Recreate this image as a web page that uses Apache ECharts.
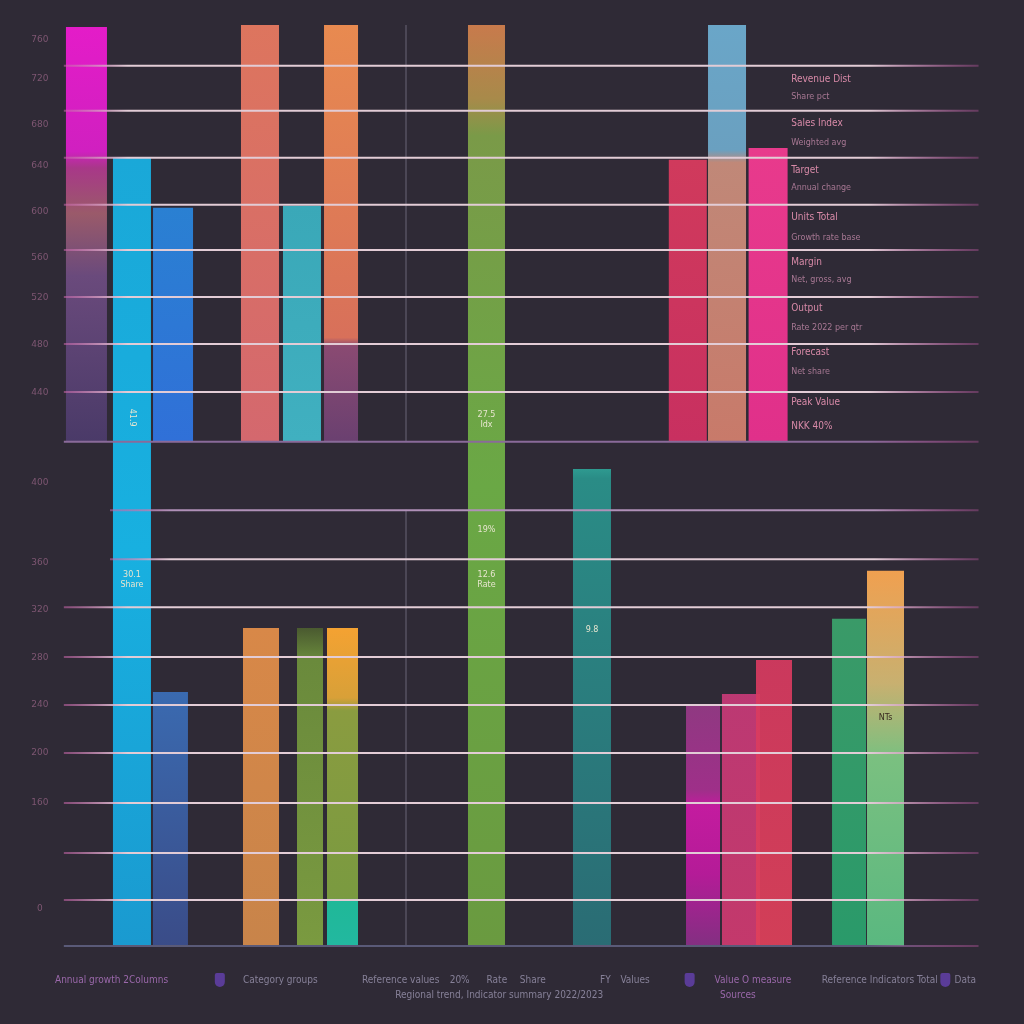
<!DOCTYPE html>
<html><head><meta charset="utf-8">
<script src="https://cdn.jsdelivr.net/npm/echarts@6/dist/echarts.min.js"></script>
<style>html,body{margin:0;background:#2f2a36}#c{width:1024px;height:1024px}</style>
</head><body><div id="c"></div><script>
// ---- data ----
const barX    = [2.65, 7.58, 12.03, 11.75, 21.45, 21.56, 26.0, 26.87, 30.23, 30.39, 45.99, 57.42, 67.8, 72.05, 76.5, 69.45, 73.56, 77.14, 85.27, 89.22];
const barLow  = [10.4, 0, 10.4, 0, 10.4, 0, 10.4, 0, 10.4, 0, 0, 0, 10.4, 10.4, 10.4, 0, 0, 0, 0, 0];
const barHigh = [18.96, 16.26, 15.23, 5.24, 19.0, 6.56, 15.27, 6.56, 19.0, 6.56, 19.0, 9.84, 16.22, 19.0, 16.46, 4.95, 5.2, 5.9, 6.75, 7.74];

const gridLineVals = [18.16, 17.23, 16.26, 15.29, 14.36, 13.39, 12.42, 11.43, 10.4, 8.99, 7.98, 6.99, 5.96, 4.97, 3.98, 2.95, 1.92, 0.95, 0];
const dividerX = 37.27;

const yLabelVals = [18.7, 17.9, 16.94, 16.1, 15.14, 14.2, 13.37, 12.4, 11.41, 9.55, 7.9, 6.93, 5.94, 4.97, 3.98, 2.95, 0.78];
const yLabelText = ['760','720','680','640','600','560','520','480','440','400','360','320','280','240','200','160','0'];

const noteVals  = [17.87, 17.52, 16.98, 16.57, 16.01, 15.64, 15.04, 14.61, 14.11, 13.74, 13.16, 12.75, 12.24, 11.84, 11.22, 10.71];
const noteText  = ['Revenue Dist','Share pct','Sales Index','Weighted avg','Target','Annual change','Units Total','Growth rate base','Margin','Net, gross, avg','Output','Rate 2022 per qtr','Forecast','Net share','Peak Value','NKK 40%'];

const catLabelX    = [-0.76, 19.6, 32.5, 42.0, 46.0, 49.6, 58.3, 60.5, 70.7, 82.3, 96.7, 36.1, 71.3];
const catLabelRow  = [0, 0, 0, 0, 0, 0, 0, 0, 0, 0, 0, 1, 1];
const catLabelText = ['Annual growth 2Columns','Category groups','Reference values','20%','Rate','Share','FY','Values','Value O measure','Reference Indicators Total','Data','Regional trend, Indicator summary 2022/2023','Sources'];
const iconX = [17.1, 68.0, 95.7];

const inBarX    = [7.58, 7.58, 45.99, 45.99, 45.99, 57.42, 89.22];
const inBarY    = [10.9, 7.55, 10.85, 8.58, 7.55, 6.52, 4.7];
const inBarText = ['41.9', '30.1\nShare', '27.5\nIdx', '19%', '12.6\nRate', '9.8', 'NTs'];

// ---- styles ----
const barWidths = [41,38,40,35,38,36,38,26,34,31,37,38,38,38,39,34,38,36,34,37];
const G = (stops) => new echarts.graphic.LinearGradient(0,0,0,1, stops.map((c)=>({offset:c[0], color:c[1]})));
const barFills = [
  G([[0,'#e41cc8'],[0.3,'#d020c0'],[0.34,'#a83888'],[0.45,'#9a5a6a'],[0.6,'#6a4a7c'],[1,'#4a3a68']]),
  G([[0,'#1aa8d8'],[0.5,'#18b0e0'],[1,'#1a9ad0']]),
  G([[0,'#2a80d2'],[1,'#3070d8']]),
  G([[0,'#3a6ab0'],[1,'#3a4c88']]),
  G([[0,'#dd755e'],[1,'#d4686e']]),
  G([[0,'#d88848'],[1,'#c8844a']]),
  G([[0,'#3aa8b8'],[1,'#40b0c0']]),
  G([[0,'#4a5a30'],[0.1,'#6a8a3c'],[1,'#7a9a40']]),
  G([[0,'#e88a50'],[0.75,'#d8705a'],[0.77,'#8a4a72'],[1,'#6a4070']]),
  G([[0,'#f4a232'],[0.22,'#d8a038'],[0.26,'#8a9c40'],[0.85,'#7a9a40'],[0.86,'#20b898'],[1,'#22b8a0']]),
  G([[0,'#c87a4c'],[0.08,'#a88a4a'],[0.12,'#7a9a48'],[0.5,'#6aa845'],[1,'#6a9a40']]),
  G([[0,'#2e9a90'],[0.02,'#2a8c86'],[1,'#2a6c74']]),
  G([[0,'#d03a5c'],[1,'#c83060']]),
  G([[0,'#6aa6c8'],[0.3,'#6aa0c0'],[0.33,'#c08878'],[1,'#c87a6a']]),
  G([[0,'#e83a8c'],[1,'#e0308a']]),
  G([[0,'#983a88'],[0.35,'#a83090'],[0.42,'#d01aa8'],[0.7,'#c01aa0'],[1,'#8a3088']]),
  G([[0,'#c83a78'],[1,'#d03a70']]),
  G([[0,'#d83a60'],[1,'#e0405a']]),
  G([[0,'#3a9a68'],[1,'#2a9a6a']]),
  G([[0,'#f0a050'],[0.3,'#c8b070'],[0.5,'#7ac080'],[1,'#5ab880']])
];

const chart = echarts.init(document.getElementById('c'), null, {renderer:'canvas'});

function textSeries(data, fmt, z){
  return {
    type:'custom', clip:false, z:z||5, silent:true,
    data: data,
    renderItem(params, api){
      const p = api.coord([api.value(0), api.value(1)]);
      const f = fmt(params.dataIndex);
      return {type:'text', x:p[0], y:p[1], rotation:f.rot||0,
        style:{text:f.text, fill:f.color, font:f.font, align:f.align||'left', verticalAlign:'middle', lineHeight:f.lh||10}};
    }
  };
}

const option = {
  backgroundColor:'#2f2a36',
  animation:false,
  grid:{left:62, right:39, top:25, bottom:78},
  xAxis:{type:'value', min:0, max:100, show:false},
  yAxis:{type:'value', min:0, max:19, show:false},
  series:[
    { // divider
      type:'custom', z:1, silent:true,
      data:[[dividerX, 10.4, 19],[dividerX, 0, 9]],
      renderItem(params, api){
        const a = api.coord([api.value(0), api.value(1)]), b = api.coord([api.value(0), api.value(2)]);
        return {type:'line', shape:{x1:a[0], y1:a[1], x2:b[0], y2:b[1]}, style:{stroke:'#6a6476', lineWidth:1}};
      }
    },
    { // bars
      type:'custom', z:2, silent:true,
      data: barX.map((x,i)=>[x, barLow[i], barHigh[i]]),
      renderItem(params, api){
        const i = params.dataIndex;
        const p0 = api.coord([api.value(0), api.value(1)]);
        const p1 = api.coord([api.value(0), api.value(2)]);
        const w = barWidths[i];
        return {type:'rect', shape:{x:p0[0]-w/2, y:p1[1], width:w, height:p0[1]-p1[1]},
          style:{fill:barFills[i], opacity:(i>=15&&i<=17)?0.92:1}};
      }
    },
    { // horizontal lines
      type:'custom', z:3, silent:true,
      data: gridLineVals.map((v,i)=>[v, i]),
      renderItem(params, api){
        const v = api.value(0);
        const start = (v===8.99||v===7.98) ? 5.2 : 0.2;
        const a = api.coord([start, v]), b = api.coord([99.3, v]);
        const base = (v===10.4||v===0);
        const mid = base ? (v===0 ? '#5a5a78' : '#8a6a9a') : (v===8.99 ? '#b090b8' : '#e2ccd6');
        const grad = new echarts.graphic.LinearGradient(0,0,1,0,[
          {offset:0, color: base ? mid : 'rgba(200,100,170,0.55)'},
          {offset:0.07, color:mid},
          {offset:0.88, color:mid},
          {offset:1, color:'rgba(200,90,170,0.35)'}]);
        return {type:'rect', shape:{x:a[0], y:a[1]-1, width:b[0]-a[0], height:2}, style:{fill:grad}};
      }
    },
    textSeries(yLabelVals.map(v=>[-2.4, v]), i=>({text:yLabelText[i], color:'#7e5672', font:'9px "DejaVu Sans"', align:'center'}), 4),
    textSeries(noteVals.map(v=>[79, v]), i=>{
      const title = (i%2===0)||i===15;
      return {text:noteText[i], color: title ? '#d88aa8' : '#a87894', font: title ? '10px "DejaVu Sans Condensed"' : '8px "DejaVu Sans"'};
    }, 4),
    textSeries(catLabelX.map((x,i)=>[x, catLabelRow[i] ? -1.01 : -0.7]), i=>{
      const purple = (i===0||i===8||i===12);
      return {text:catLabelText[i], color: purple ? '#9a68aa' : '#868098', font:'10px "DejaVu Sans Condensed"'};
    }, 4),
    { // icons
      type:'custom', clip:false, z:4, silent:true,
      data: iconX.map(x=>[x, -0.7]),
      renderItem(params, api){
        const p = api.coord([api.value(0), api.value(1)]);
        return {type:'rect', shape:{x:p[0]-5, y:p[1]-7, width:10, height:14, r:[2,2,5,5]}, style:{fill:'#5a3c98'}};
      }
    },
    textSeries(inBarX.map((x,i)=>[x, inBarY[i]]), i=>({text:inBarText[i], color: i===6 ? '#3a2a20' : '#e8e6d0', font:'8px "DejaVu Sans"', align:'center', lh:10, rot: i===0 ? -Math.PI/2 : 0}), 6)
  ]
};
chart.setOption(option);
</script></body></html>
